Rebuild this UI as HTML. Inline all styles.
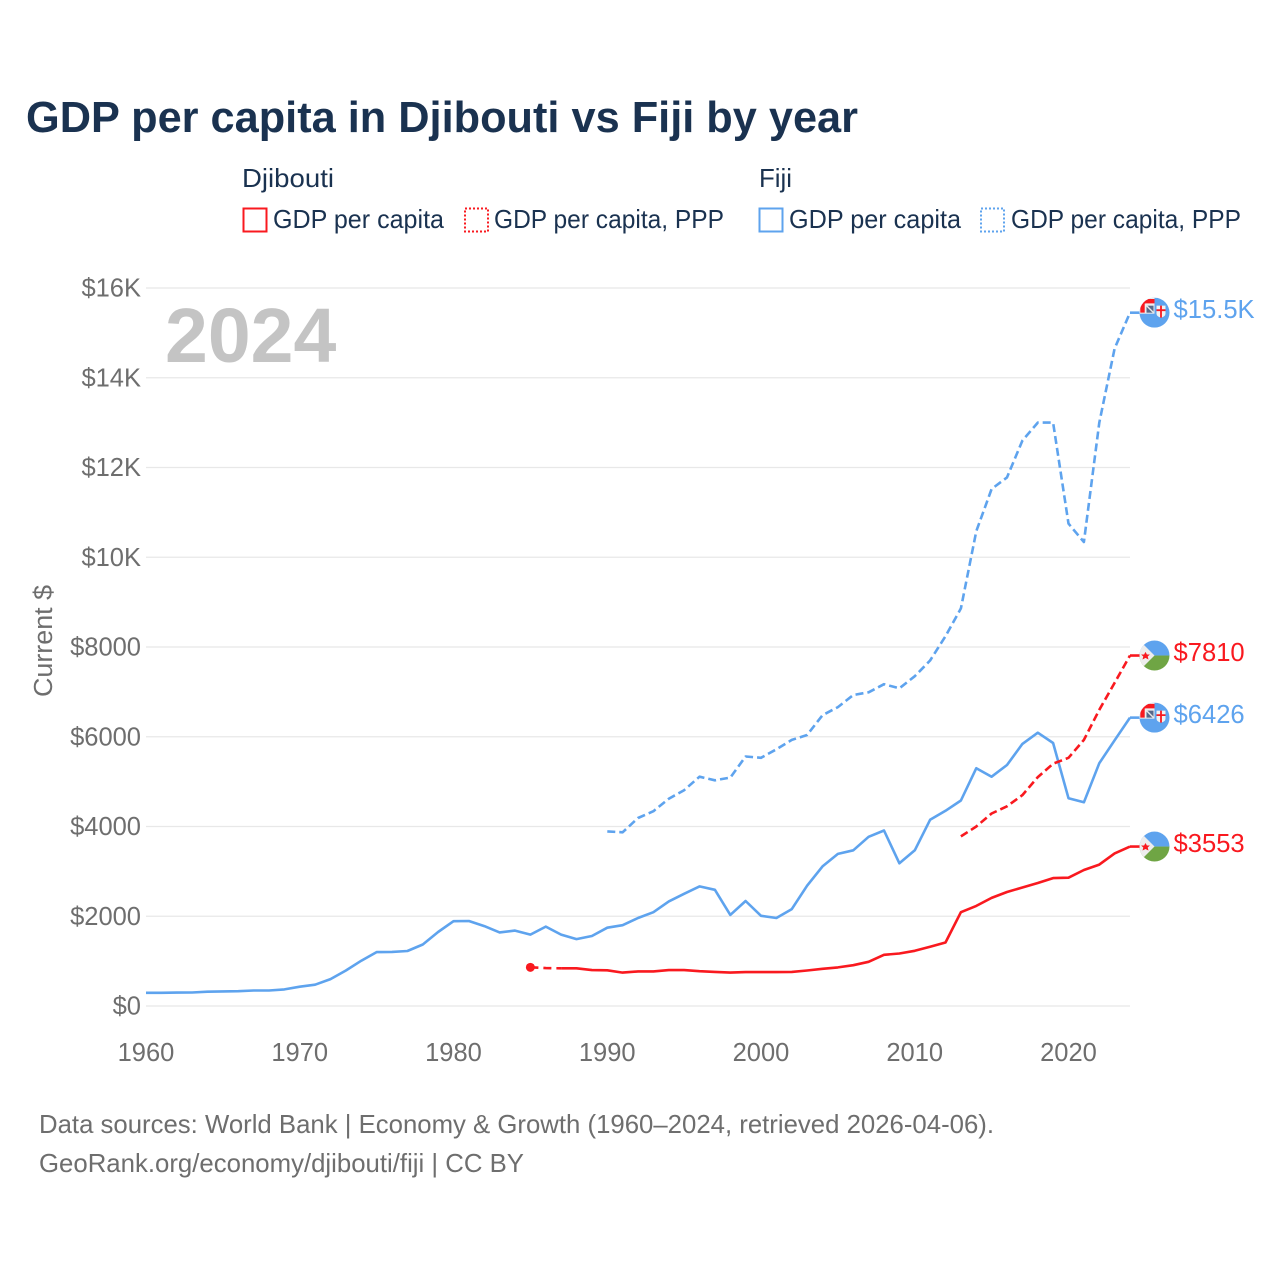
<!DOCTYPE html>
<html lang="en">
<head>
<meta charset="utf-8">
<title>GDP per capita in Djibouti vs Fiji by year</title>
<style>
html,body{margin:0;padding:0;background:#fff;}
svg{display:block;font-family:"Liberation Sans",sans-serif;}
</style>
</head>
<body>
<svg id="chart" xmlns="http://www.w3.org/2000/svg" width="1280" height="1280" viewBox="0 0 1280 1280">
  <defs>
    <clipPath id="flag-clip"><circle cx="0" cy="0" r="15"/></clipPath>
    <symbol id="flag-dj" overflow="visible">
      <g clip-path="url(#flag-clip)">
        <rect x="-15" y="-15" width="30" height="15" fill="#5ea3ee"/>
        <rect x="-15" y="0" width="30" height="15" fill="#6fa544"/>
        <polygon points="-15,-15 0,0 -15,15" fill="#ededed"/>
        <polygon points="-9,-3.6 -7.6,-1 -4.6,-1 -6.8,1 -6,4 -9,2.4 -12,4 -11.2,1 -13.4,-1 -10.4,-1" fill="#f9191f"/>
      </g>
    </symbol>
    <symbol id="flag-fj" overflow="visible">
      <g clip-path="url(#flag-clip)">
        <rect x="-15" y="-15" width="30" height="30" fill="#5ea3ee"/>
        <rect x="-15" y="-15" width="15" height="16" fill="#eeeeee"/>
        <path d="M-12 0V-8.5Q-12 -11.5 -8.5 -11.5H0" stroke="#f9191f" stroke-width="4.4" fill="none"/>
        <rect x="-8" y="-7" width="7" height="7" fill="#56688a"/>
        <path d="M-8 -7L-1 0" stroke="#e8e8e8" stroke-width="1.4" fill="none"/>
        <path d="M2 -7H11V1Q11 4 6.5 5Q2 4 2 1Z" fill="#f2f2f2"/>
        <path d="M6.5 -7V5M2 -2.5H11" stroke="#f9191f" stroke-width="1.8" fill="none"/>
      </g>
    </symbol>
  </defs>

  <text x="26" y="132" font-size="44" font-weight="700" fill="#1a3250" textLength="832" lengthAdjust="spacingAndGlyphs">GDP per capita in Djibouti vs Fiji by year</text>

  <g font-size="26" fill="#1a3250">
    <text x="242" y="187" textLength="92" lengthAdjust="spacingAndGlyphs">Djibouti</text>
    <text x="759" y="187" textLength="33" lengthAdjust="spacingAndGlyphs">Fiji</text>
    <rect x="243.5" y="208.5" width="23" height="23" fill="none" stroke="#f9191f" stroke-width="2"/>
    <text x="273" y="228" textLength="171" lengthAdjust="spacingAndGlyphs">GDP per capita</text>
    <rect x="465" y="208.5" width="23" height="23" fill="none" stroke="#f9191f" stroke-width="2" stroke-dasharray="2 2"/>
    <text x="494" y="228" textLength="230" lengthAdjust="spacingAndGlyphs">GDP per capita, PPP</text>
    <rect x="759.5" y="208.5" width="23" height="23" fill="none" stroke="#5ea3ee" stroke-width="2"/>
    <text x="789" y="228" textLength="172" lengthAdjust="spacingAndGlyphs">GDP per capita</text>
    <rect x="981" y="208.5" width="23" height="23" fill="none" stroke="#5ea3ee" stroke-width="2" stroke-dasharray="2 2"/>
    <text x="1011" y="228" textLength="230" lengthAdjust="spacingAndGlyphs">GDP per capita, PPP</text>
  </g>

  <g id="grid"></g>
  <text x="165" y="362" font-size="77" font-weight="700" fill="#c4c4c4">2024</text>
  <g id="y-ticks" font-size="25.5" fill="#6e6e6e" text-anchor="end"></g>
  <g id="x-ticks" font-size="25.5" fill="#6e6e6e" text-anchor="middle"></g>
  <text transform="translate(52,641) rotate(-90)" font-size="25.5" fill="#6e6e6e" text-anchor="middle" textLength="112" lengthAdjust="spacingAndGlyphs">Current $</text>
  <g id="series" fill="none" stroke-width="2.6" stroke-linejoin="round"></g>
  <g id="end-labels" font-size="25.6"></g>

  <g font-size="26" fill="#6e6e6e">
    <text x="39" y="1133" textLength="955" lengthAdjust="spacingAndGlyphs">Data sources: World Bank | Economy &amp; Growth (1960–2024, retrieved 2026-04-06).</text>
    <text x="39" y="1172" textLength="485" lengthAdjust="spacingAndGlyphs">GeoRank.org/economy/djibouti/fiji | CC BY</text>
  </g>
</svg>

<script>
const yTickValues = [0, 2000, 4000, 6000, 8000, 10000, 12000, 14000, 16000];
const yTickLabels = ["$0", "$2000", "$4000", "$6000", "$8000", "$10K", "$12K", "$14K", "$16K"];
const xTickYears = [1960, 1970, 1980, 1990, 2000, 2010, 2020];

const fijiGdpStart = 1960;
const fijiGdp = [294,295,298,300,318,325,330,345,345,370,430,475,600,790,1010,1200,1205,1225,1370,1650,1890,1895,1780,1640,1680,1590,1770,1590,1490,1560,1745,1800,1960,2090,2330,2500,2665,2590,2030,2340,2010,1960,2160,2680,3110,3390,3470,3770,3910,3180,3470,4150,4350,4580,5300,5110,5370,5840,6090,5860,4630,4540,5410,5920,6426];
const fijiPppStart = 1990;
const fijiPpp = [3890,3870,4190,4340,4620,4810,5110,5030,5090,5560,5530,5720,5930,6040,6480,6660,6930,6990,7170,7080,7350,7700,8240,8860,10580,11520,11780,12600,13000,13000,10750,10340,13000,14650,15450];
const djiboutiGdpStart = 1985;
const djiboutiGdp = [862,845,840,840,800,795,745,770,770,800,800,775,760,745,755,755,755,760,790,830,860,910,985,1140,1170,1230,1320,1415,2090,2230,2410,2540,2640,2740,2850,2860,3030,3150,3400,3553];
const djiboutiPppStart = 2013;
const djiboutiPpp = [3780,4000,4290,4450,4700,5100,5400,5530,5930,6600,7200,7810];
const endLabels = ["$15.5K", "$7810", "$6426", "$3553"];

const NS = 'http://www.w3.org/2000/svg';
const RED = '#f9191f';
const BLUE = '#5ea3ee';
function xScale(year) { return 146 + (year - 1960) * 15.375; }
function yScale(value) { return 1006 - value * 0.044875; }
function make(tag, parentId) {
  const el = document.createElementNS(NS, tag);
  document.getElementById(parentId).appendChild(el);
  return el;
}
function linePath(startYear, values) {
  return values.map(function (v, i) {
    return (i ? 'L' : 'M') + xScale(startYear + i).toFixed(1) + ' ' + yScale(v).toFixed(1);
  }).join('');
}

yTickValues.forEach(function (v, i) {
  const line = make('line', 'grid');
  
  
  line.setAttribute('x1', xScale(1960));
  line.setAttribute('x2', 1130);
  line.setAttribute('y1', yScale(v));
  line.setAttribute('y2', yScale(v));
  line.setAttribute('stroke', '#e8e8e8');
  line.setAttribute('stroke-width', '1.2');
  const t = make('text', 'y-ticks');
  
  
  t.setAttribute('x', 141);
  t.setAttribute('y', yScale(v) + 8.5);
  t.textContent = yTickLabels[i];
});

xTickYears.forEach(function (year) {
  const t = make('text', 'x-ticks');
  
  
  t.setAttribute('x', xScale(year));
  t.setAttribute('y', 1061);
  t.textContent = year;
});

function drawSeries(name, startYear, values, color, dash) {
  const p = make('path', 'series');
  
  
  p.setAttribute('d', linePath(startYear, values));
  p.setAttribute('stroke', color);
  if (dash) p.setAttribute('stroke-dasharray', dash);
}

drawSeries('fiji-gdp-line', fijiGdpStart, fijiGdp, BLUE, null);
drawSeries('fiji-ppp-line', fijiPppStart, fijiPpp, BLUE, '8 4');
drawSeries('djibouti-gdp-lead-in', djiboutiGdpStart, djiboutiGdp.slice(0, 3), RED, '8 5');
drawSeries('djibouti-gdp-line', djiboutiGdpStart + 2, djiboutiGdp.slice(2), RED, null);
drawSeries('djibouti-ppp-line', djiboutiPppStart, djiboutiPpp, RED, '8 4');

const startDot = make('circle', 'series');


startDot.setAttribute('cx', xScale(djiboutiGdpStart));
startDot.setAttribute('cy', yScale(djiboutiGdp[0]));
startDot.setAttribute('r', 4.5);
startDot.setAttribute('fill', RED);
startDot.setAttribute('stroke', 'none');

function drawEnd(name, startYear, values, color, flag, label) {
  const lastYear = startYear + values.length - 1;
  const last = values[values.length - 1];
  const x = xScale(lastYear);
  const y = yScale(last);
  const c = make('line', 'series');
  
  
  c.setAttribute('x1', x);
  c.setAttribute('x2', x + 10);
  c.setAttribute('y1', y);
  c.setAttribute('y2', y);
  c.setAttribute('stroke', color);
  const u = make('use', 'end-labels');
  
  
  u.setAttribute('href', flag);
  u.setAttribute('x', x + 24.5);
  u.setAttribute('y', y);
  const t = make('text', 'end-labels');
  
  
  t.setAttribute('x', x + 43.5);
  t.setAttribute('y', y + 5.5);
  t.setAttribute('fill', color);
  t.textContent = label;
}

drawEnd('fiji-ppp', fijiPppStart, fijiPpp, BLUE, '#flag-fj', endLabels[0]);
drawEnd('djibouti-ppp', djiboutiPppStart, djiboutiPpp, RED, '#flag-dj', endLabels[1]);
drawEnd('fiji-gdp', fijiGdpStart, fijiGdp, BLUE, '#flag-fj', endLabels[2]);
drawEnd('djibouti-gdp', djiboutiGdpStart, djiboutiGdp, RED, '#flag-dj', endLabels[3]);
</script>
</body>
</html>
